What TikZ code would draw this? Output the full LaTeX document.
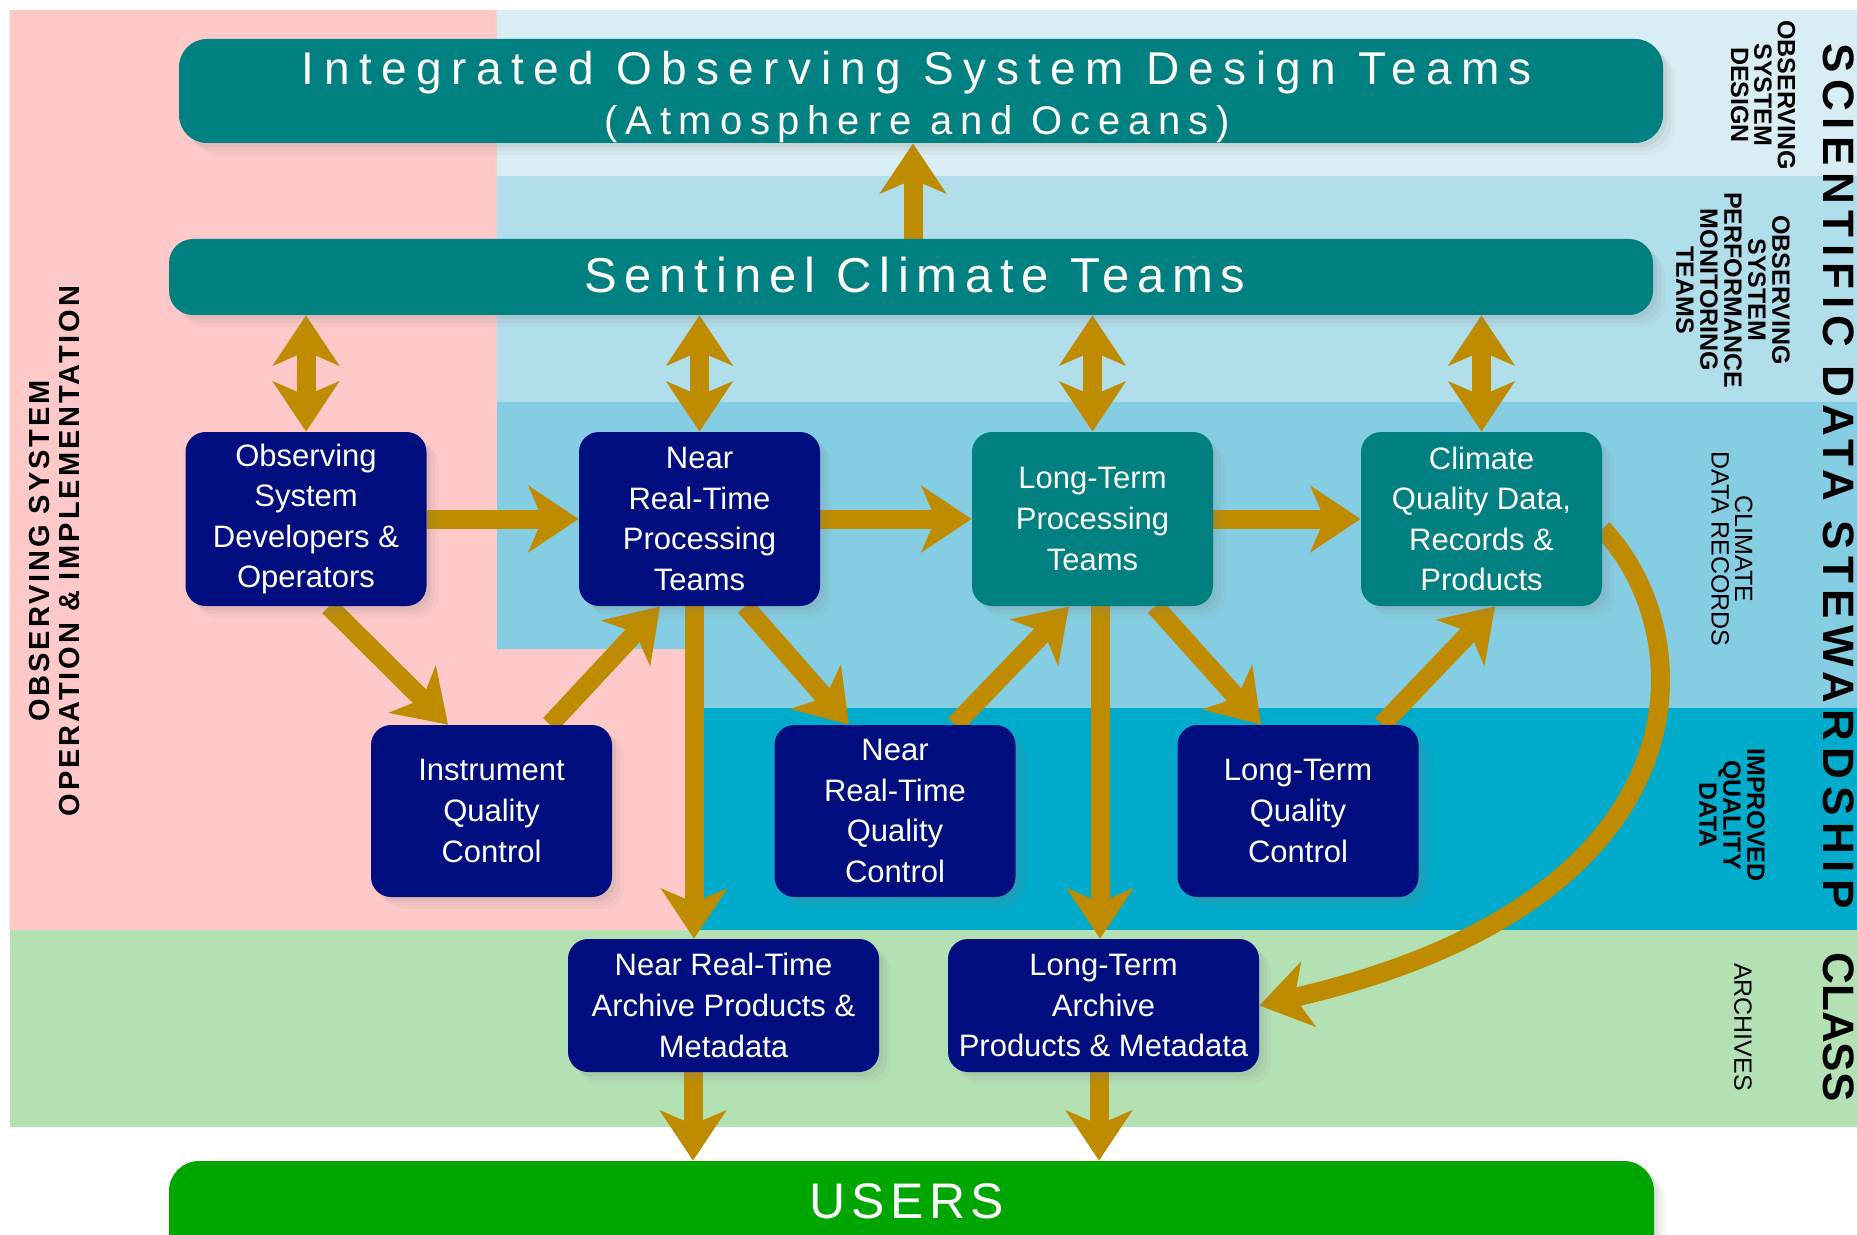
\documentclass[tikz,border=0pt]{standalone}
\usepackage{fontspec}
\setmainfont{Liberation Sans}
\newfontfamily\titleAfont{Liberation Sans}[LetterSpace=20.5]
\newfontfamily\titleBfont{Liberation Sans}[LetterSpace=19.5]
\newfontfamily\sentfont{Liberation Sans}[LetterSpace=15.7]
\newfontfamily\usersfont{Liberation Sans}[LetterSpace=11]
\newfontfamily\sdsfont{Liberation Sans}[LetterSpace=15]
\newfontfamily\leftlblfont{Liberation Sans}[LetterSpace=10]
\usetikzlibrary{arrows.meta,shadows,calc}
\definecolor{gold}{HTML}{BF8C00}
\definecolor{boxnavy}{HTML}{000E80}
\definecolor{boxteal}{HTML}{008080}
\definecolor{usersgreen}{HTML}{00A600}
\definecolor{pinkbg}{HTML}{FFC9C9}
\definecolor{vlblue}{HTML}{D9EEF4}
\definecolor{lblue}{HTML}{B0DEEA}
\definecolor{mblue}{HTML}{85CDE2}
\definecolor{tband}{HTML}{00ABCB}
\definecolor{gband}{HTML}{B3E1B4}
\pgfdeclarelayer{bg}
\pgfdeclarelayer{arrowlayer}
\pgfsetlayers{bg,arrowlayer,main}
\tikzset{
  boxshadow/.style={
    drop shadow={shadow xshift=2pt,shadow yshift=-2pt,opacity=.10},
    drop shadow={shadow xshift=4pt,shadow yshift=-4pt,opacity=.08},
    drop shadow={shadow xshift=6pt,shadow yshift=-6pt,opacity=.06}},
  box/.style={rectangle, rounded corners=10pt, minimum width=120.5pt,
    minimum height=87pt, inner sep=0pt, align=center, text=white,
    font=\fontsize{15.5}{20.3}\selectfont, boxshadow},
  navybox/.style={box, fill=boxnavy},
  tealbox/.style={box, fill=boxteal},
  archbox/.style={navybox, minimum width=155.5pt, minimum height=66.5pt},
  bar/.style={rectangle, inner sep=0pt, boxshadow},
  bartext/.style={anchor=base, text=white, inner sep=0pt},
  arr/.style={draw=gold, line width=9.5pt,
    -{Stealth[length=25pt,width=33pt,inset=7pt]}},
  dblarr/.style={draw=gold, line width=9.5pt,
    {Stealth[length=25pt,width=33pt,inset=7pt]}-{Stealth[length=25pt,width=33pt,inset=7pt]}},
  sidelbl/.style={rotate=-90, align=center, inner sep=0pt},
}
\begin{document}
\begin{tikzpicture}[x=0.5pt,y=-0.5pt]
\useasboundingbox (0,0) rectangle (1857,1235);
\clip (0,0) rectangle (1857,1235);

\begin{pgfonlayer}{bg}
\fill[white] (0,0) rectangle (1857,1235);
\fill[pinkbg] (9.5,10) -- (497,10) -- (497,649) -- (694,649) -- (694,930) -- (9.5,930) -- cycle;
\fill[vlblue] (497,10) rectangle (1857,176);
\fill[lblue] (497,176) rectangle (1857,402);
\fill[mblue] (497,402) -- (1857,402) -- (1857,708) -- (694,708) -- (694,649) -- (497,649) -- cycle;
\fill[tband] (694,708) rectangle (1857,930);
\fill[gband] (9.5,930) rectangle (1857,1127);
\end{pgfonlayer}

% bars
\node[bar, fill=boxteal, rounded corners=14pt, minimum width=742pt, minimum height=52pt] (title) at (921,91) {};
\node[bartext, font=\titleAfont\fontsize{23}{25}\selectfont] (titleA) at (917,85) {Integrated Observing System Design Teams};
\node[bartext, font=\titleBfont\fontsize{20}{22}\selectfont] (titleB) at (917,135) {(Atmosphere and Oceans)};

\node[bar, fill=boxteal, rounded corners=12pt, minimum width=742pt, minimum height=38pt] (sentinel) at (911,277) {};
\node[bartext, font=\sentfont\fontsize{24.5}{26}\selectfont] (sentinelT) at (915,293) {Sentinel Climate Teams};

\node[bar, fill=usersgreen, rounded corners=15pt, minimum width=742.5pt, minimum height=69.5pt] (users) at (911.5,1230.5) {};
\node[bartext, font=\usersfont\fontsize{25}{27}\selectfont] (usersT) at (907,1218) {USERS};

% boxes row 1
\node[navybox] (obsdev) at (306,519) {Observing\\System\\Developers \&\\Operators};
\node[navybox] (nrtproc) at (699.5,519) {Near\\Real-Time\\Processing\\Teams};
\node[tealbox] (ltproc) at (1092.5,519) {Long-Term\\Processing\\Teams};
\node[tealbox] (climate) at (1481.5,519) {Climate\\Quality Data,\\Records \&\\Products};
% row 2
\node[navybox, minimum height=86pt] (instqc) at (491.5,811) {Instrument\\Quality\\Control};
\node[navybox, minimum height=86pt] (nrtqc) at (895,811) {Near\\Real-Time\\Quality\\Control};
\node[navybox, minimum height=86pt] (ltqc) at (1298,811) {Long-Term\\Quality\\Control};
% archives
\node[archbox] (nrtarch) at (723.5,1005.5) {Near Real-Time\\Archive Products \&\\Metadata};
\node[archbox] (ltarch) at (1103.5,1005.5) {Long-Term\\Archive\\Products \& Metadata};

% arrows
\begin{pgfonlayer}{arrowlayer}
\draw[arr] ([xshift=1pt]sentinel.north) -- ([xshift=1pt]sentinel.north |- title.south);
\foreach \b in {obsdev,nrtproc,ltproc,climate}
  \draw[dblarr] (\b.north) -- (\b.north |- sentinel.south);
\draw[arr] (obsdev.east) -- (nrtproc.west);
\draw[arr] (nrtproc.east) -- (ltproc.west);
\draw[arr] (ltproc.east) -- (climate.west);
\draw[arr] ([xshift=11.5pt]obsdev.south) -- ([xshift=-21.75pt]instqc.north);
\draw[arr] ([xshift=29.25pt]instqc.north) -- ([xshift=-19.75pt]nrtproc.south);
\draw[arr] ([xshift=22.75pt]nrtproc.south) -- ([xshift=-23pt]nrtqc.north);
\draw[arr] ([xshift=30pt]nrtqc.north) -- ([xshift=-11.75pt]ltproc.south);
\draw[arr] ([xshift=31.25pt]ltproc.south) -- ([xshift=-18.5pt]ltqc.north);
\draw[arr] ([xshift=42pt]ltqc.north) -- ([xshift=6.75pt]climate.south);
\draw[arr] ([xshift=-2.75pt]nrtproc.south) -- ([xshift=-2.75pt]nrtproc.south |- nrtarch.north);
\draw[arr] ([xshift=3.75pt]ltproc.south) -- ([xshift=3.75pt]ltproc.south |- ltarch.north);
\draw[arr] ([yshift=-5pt]climate.east) .. controls (1700,630) and (1720,900) .. (ltarch.east);
\draw[arr] ([xshift=-15.25pt]nrtarch.south) -- ([xshift=-15.25pt]nrtarch.south |- users.north);
\draw[arr] ([xshift=-2.25pt]ltarch.south) -- ([xshift=-2.25pt]ltarch.south |- users.north);
\end{pgfonlayer}

% side labels
\node[rotate=90, align=center, inner sep=0pt, font=\leftlblfont\bfseries\fontsize{14.5}{15}\selectfont] (leftlbl) at (55,551) {OBSERVING SYSTEM\\OPERATION \& IMPLEMENTATION};
\node[sidelbl, font=\bfseries\fontsize{12.5}{11.7}\selectfont] (lblosd) at (1763,95) {OBSERVING\\SYSTEM\\DESIGN};
\node[sidelbl, font=\bfseries\fontsize{12.5}{12}\selectfont] (lblospm) at (1733,290) {OBSERVING\\SYSTEM\\PERFORMANCE\\MONITORING\\TEAMS};
\node[sidelbl, font=\fontsize{12.5}{11.7}\selectfont] (lblcdr) at (1732,549) {CLIMATE\\DATA RECORDS};
\node[sidelbl, font=\bfseries\fontsize{12.5}{12}\selectfont] (lbliqd) at (1732,815) {IMPROVED\\QUALITY\\DATA};
\node[sidelbl, font=\fontsize{12.5}{12}\selectfont] (lblarch) at (1743,1027) {ARCHIVES};
\node[sidelbl, font=\sdsfont\bfseries\fontsize{22}{24}\selectfont] (lblsds) at (1839,476) {SCIENTIFIC DATA STEWARDSHIP};
\node[sidelbl, font=\bfseries\fontsize{22}{24}\selectfont] (lblclass) at (1839,1027) {CLASS};
\end{tikzpicture}
\end{document}
